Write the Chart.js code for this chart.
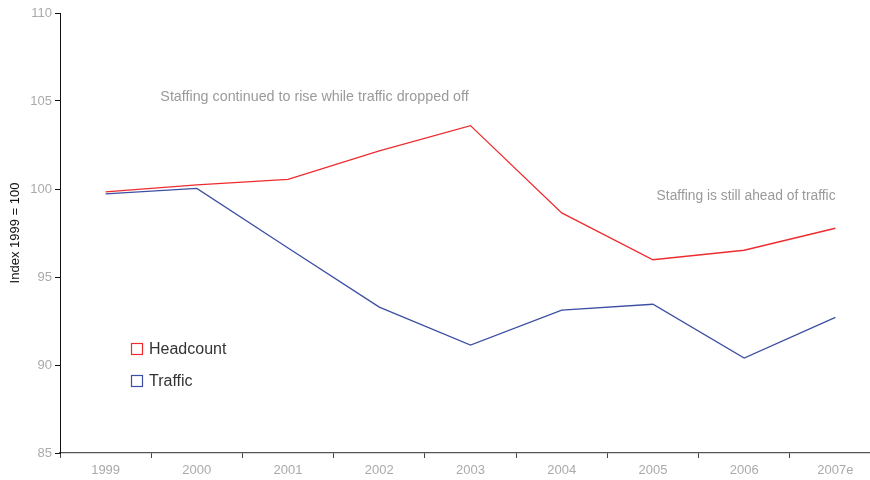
<!DOCTYPE html>
<html>
<head>
<meta charset="utf-8">
<script src="https://cdn.jsdelivr.net/npm/chart.js@4.4.0/dist/chart.umd.min.js"></script>
<style>
  html, body { margin: 0; padding: 0; background: #fff; overflow: hidden; width: 870px; height: 480px; }
  #wrap { width: 881px; height: 480px; position: relative; }
</style>
</head>
<body>
<div id="wrap"><canvas id="c" width="881" height="480"></canvas></div>
<script>
const years = ["1999", "2000", "2001", "2002", "2003", "2004", "2005", "2006", "2007e"];
const headcount = [99.84, 100.24, 100.55, 102.17, 103.6, 98.64, 95.98, 96.52, 97.77];
const traffic = [99.72, 100.03, 96.65, 93.29, 91.13, 93.12, 93.45, 90.39, 92.71];
const yTicks = [85, 90, 95, 100, 105, 110];
const notes = [
  { text: "Staffing continued to rise while traffic dropped off", cat: 0.6, val: 105.25, size: 14.3 },
  { text: "Staffing is still ahead of traffic", cat: 6.04, val: 99.6, size: 13.8 }
];

const FONT = "'Liberation Sans', Arial, sans-serif";

const annotate = {
  id: 'annotate',
  afterDatasetsDraw(chart) {
    const ctx = chart.ctx;
    const xs = chart.scales.x, ys = chart.scales.y;
    ctx.save();
    ctx.fillStyle = "#9a9a9a";
    ctx.textBaseline = "middle";
    ctx.textAlign = "left";
    notes.forEach(n => {
      ctx.font = n.size + "px " + FONT;
      ctx.fillText(n.text, xs.getPixelForValue(n.cat), ys.getPixelForValue(n.val));
    });
    // legend
    const items = chart.data.datasets;
    ctx.font = "16px " + FONT;
    items.forEach((d, i) => {
      const y = 349 + i * 32;
      ctx.strokeStyle = d.borderColor;
      ctx.lineWidth = 1.2;
      ctx.strokeRect(131.5, y - 5.5, 11, 11);
      ctx.fillStyle = "#333";
      ctx.fillText(d.label, 149, y + 1);
    });
    ctx.restore();
  }
};

new Chart(document.getElementById('c'), {
  type: 'line',
  data: {
    labels: years,
    datasets: [
      { label: 'Headcount', data: headcount, borderColor: '#ee2b2f', borderWidth: 1.3, pointRadius: 0, tension: 0, fill: false },
      { label: 'Traffic', data: traffic, borderColor: '#3b4fa3', borderWidth: 1.3, pointRadius: 0, tension: 0, fill: false }
    ]
  },
  plugins: [annotate],
  options: {
    responsive: false,
    animation: false,
    devicePixelRatio: 1,
    layout: { padding: { top: 13, right: 0, left: 0, bottom: 0 } },
    plugins: { legend: { display: false }, tooltip: { enabled: false } },
    scales: {
      x: {
        type: 'category',
        offset: true,
        grid: { offset: true, drawOnChartArea: false, drawTicks: true, tickLength: 5, color: '#444', lineWidth: 1 },
        border: { display: true, color: '#555', width: 1.2 },
        ticks: { color: '#aaaaaa', font: { family: FONT, size: 13 }, padding: 5, maxRotation: 0, autoSkip: false },
        afterFit(s) { s.height = 27; }
      },
      y: {
        min: 85, max: 110,
        afterBuildTicks(s) { s.ticks = yTicks.map(v => ({ value: v })); },
        grid: { drawOnChartArea: false, drawTicks: true, tickLength: 5, color: '#111', lineWidth: 1 },
        border: { display: true, color: '#111', width: 1 },
        ticks: { color: '#aaaaaa', font: { family: FONT, size: 13 }, padding: 3 },
        title: { display: true, text: 'Index 1999 = 100', color: '#111', font: { family: FONT, size: 13 }, padding: { top: 8, bottom: 0 } },
        afterFit(s) { s.width = 60; }
      }
    }
  }
});
</script>
</body>
</html>
